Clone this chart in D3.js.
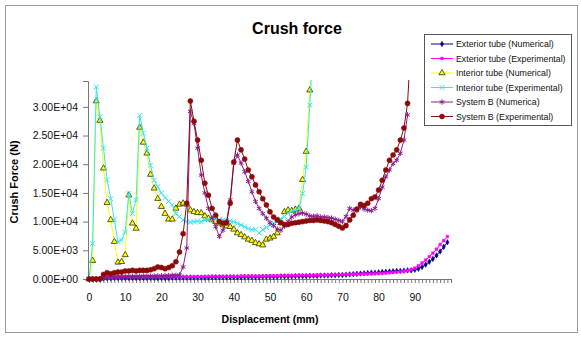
<!DOCTYPE html>
<html>
<head>
<meta charset="utf-8">
<script src="https://cdn.jsdelivr.net/npm/d3@7"></script>
<style>
  body { margin: 0; background: #fff; }
  svg { font-family: "Liberation Sans", Arial, sans-serif; }
</style>
</head>
<body>
<div class="chart"></div>
<script>
// values, one per mm of displacement (index = mm)
const extNum = [0,0,0,0,100,150,150,200,200,200,
  200,200,200,200,200,200,200,200,200,200,
  200,200,200,250,250,250,250,250,250,250,
  250,250,250,250,300,300,300,300,300,300,
  300,300,300,350,350,350,350,350,400,400,
  400,400,400,450,450,450,450,500,500,500,
  500,550,550,550,600,600,600,650,650,700,
  700,750,800,850,900,950,1000,1050,1100,1100,
  1150,1200,1250,1300,1350,1400,1400,1450,1500,1500,
  1600,1800,2100,2500,3000,3500,4100,4800,5600,6400]

const extExp = [0,0,0,100,300,350,300,350,350,400,
  400,400,400,400,400,400,400,400,400,400,
  400,400,400,400,400,400,400,400,400,400,
  400,400,450,450,450,450,450,450,450,450,
  450,450,500,500,500,500,500,500,500,550,
  550,550,550,600,600,600,600,600,650,650,
  650,650,650,700,700,700,700,750,750,750,
  800,800,800,850,850,850,900,900,900,950,
  1000,1000,1050,1100,1150,1200,1300,1350,1450,1600,
  1900,2300,2800,3300,3900,4500,5200,6000,6700,7400]

const intNum = [0,3200,31000,27600,19300,13300,10300,6500,2900,3000,
  4200,14600,9700,8800,26400,23800,21900,18200,15800,14000,
  12600,11400,10400,10400,12300,13000,13200,13000,12000,11700,
  11550,11500,10970,10570,10280,9990,9700,9400,9200,9100,
  8650,8000,7700,7300,6900,6700,6300,6100,5900,6900,
  7100,7400,8000,9800,11700,12000,11900,12100,12300,17300,
  22200,32900,45000]

const intExp = [0,6200,33500,28300,22800,17300,14000,10300,6500,6800,
  8200,14900,11400,13800,28500,25400,22800,19800,17200,16100,
  15000,14200,13500,12900,11400,10850,10300,10000,9900,10000,
  10100,10000,10300,10400,10500,10400,10300,10300,10200,10100,
  10000,9700,9400,9100,8800,8600,8600,8000,8600,9000,
  9400,9700,10000,10500,10900,11500,11800,12000,12300,14900,
  19500,30300,42000]

const sysBNum = [0,0,0,0,200,300,300,350,400,400,
  400,450,450,450,450,500,500,500,500,550,
  550,600,600,650,650,700,2100,5400,29200,27100,
  22800,18100,15000,12300,10600,9100,7400,8500,10000,13800,
  20200,21600,20200,18700,17000,15200,13500,12300,11400,10600,
  9800,9300,8700,8500,9200,10000,10800,11200,11400,11500,
  11300,11000,10900,11000,10800,10800,10700,10600,10400,10200,
  10000,10900,12300,12000,11900,12600,12200,12000,11900,12300,
  14000,16000,17800,19000,20100,20700,21900,24200,28600]

const sysBExp = [0,0,0,0,800,1100,900,1100,1200,1200,
  1400,1400,1500,1400,1500,1500,1500,1600,1800,2100,
  2000,1800,2000,2300,3000,4700,7900,13200,31000,27500,
  24200,20700,16700,14600,12300,11100,10000,9700,9800,13200,
  20400,24200,22500,20900,19000,17800,16400,15200,14000,12900,
  11700,10800,10300,9800,9500,9500,9700,9800,9900,10000,
  10100,10200,10200,10300,10200,10100,10000,9800,9500,9200,
  8900,9300,10300,11100,12200,13000,12800,13200,14000,14300,
  15500,17200,19000,20700,21600,22500,24200,26300,30600,42000]

const seriesNames = ["Exterior tube (Numerical)", "Exterior tube (Experimental)",
  "Interior tube (Numerical)", "Interior tube (Experimental)",
  "System B (Numerica)", "System B (Experimental)"]

const yTicks = [0, 5000, 10000, 15000, 20000, 25000, 30000]
const xLabels = [0, 10, 20, 30, 40, 50, 60, 70, 80, 90]
const categories = d3.range(0, 101)   // one tick per mm

const series = [
  {name: seriesNames[0], values: extNum,  color: "#000080", marker: "diamond"},
  {name: seriesNames[1], values: extExp,  color: "#ff00ff", marker: "square"},
  {name: seriesNames[2], values: intNum,  color: "#ffff00", marker: "triangle"},
  {name: seriesNames[3], values: intExp,  color: "#33e6ee", marker: "times"},
  {name: seriesNames[4], values: sysBNum, color: "#8a1e8c", marker: "asterisk"},
  {name: seriesNames[5], values: sysBExp, color: "#8b0a0a", marker: "circle"}
]

const width = 581
const height = 337
const plotLeft = 89, plotRight = 451, plotTop = 81, plotBottom = 279

let svg = d3.select(".chart")
  .append("svg")
  .attr("width", width)
  .attr("height", height)

// outer chart frame
svg.append("rect")
  .attr("x", 5.5).attr("y", 5.5)
  .attr("width", 572).attr("height", 327)
  .attr("fill", "#fff")
  .attr("stroke", "#9a9a9a")

svg.append("text")
  .text("Crush force")
  .attr("x", 297)
  .attr("y", 34)
  .attr("text-anchor", "middle")
  .attr("font-size", "16px")
  .attr("font-weight", "bold")

let x = d3.scaleLinear().domain([0, 100]).range([plotLeft, plotRight])
let y = d3.scaleLinear().domain([0, 34500]).range([plotBottom, plotTop])

let sciFormat = (d) => {
  let [m, e] = d.toExponential(2).split("e")
  let sign = e[0]
  let digits = e.slice(1).padStart(2, "0")
  return m + "E" + sign + digits
}

// y axis
let yAxis = d3.axisLeft(y)
  .tickValues(yTicks)
  .tickSize(5)
  .tickPadding(5)
  .tickFormat(sciFormat)
let gy = svg.append("g")
  .attr("transform", "translate(" + (plotLeft - 1) + ",0)")
  .call(yAxis)
gy.selectAll("path, line").attr("stroke", "#777")
gy.selectAll("text").attr("font-size", "10.5px").attr("fill", "#111")
  .attr("font-family", "Liberation Sans, Arial, sans-serif")

// x axis, a tick at every category, labels every 10
let xAxis = d3.axisBottom(x)
  .tickValues(categories)
  .tickSize(4)
  .tickPadding(11)
  .tickSizeOuter(0)
  .tickFormat((d) => xLabels.includes(d) ? d : "")
let gx = svg.append("g")
  .attr("transform", "translate(0," + plotBottom + ")")
  .call(xAxis)
gx.selectAll("path, line").attr("stroke", "#777")
gx.selectAll("text").attr("font-size", "10.5px").attr("fill", "#111")
  .attr("font-family", "Liberation Sans, Arial, sans-serif")

svg.append("text")
  .text("Displacement (mm)")
  .attr("x", (plotLeft + plotRight) / 2)
  .attr("y", 323)
  .attr("text-anchor", "middle")
  .attr("font-size", "10.5px")
  .attr("font-weight", "bold")

svg.append("text")
  .text("Crush Force (N)")
  .attr("transform", "translate(18,182) rotate(-90)")
  .attr("text-anchor", "middle")
  .attr("font-size", "11px")
  .attr("font-weight", "bold")

svg.append("clipPath")
  .attr("id", "plot-clip")
  .append("rect")
  .attr("x", plotLeft - 4).attr("y", plotTop - 1)
  .attr("width", plotRight - plotLeft + 8).attr("height", plotBottom - plotTop + 6)

let symbolFor = {
  diamond: d3.symbol(d3.symbolDiamond, 9),
  square: d3.symbol(d3.symbolSquare, 7),
  triangle: d3.symbol(d3.symbolTriangle, 16),
  times: d3.symbol(d3.symbolTimes, 18),
  asterisk: d3.symbol(d3.symbolAsterisk, 20),
  circle: d3.symbol(d3.symbolCircle, 20)
}

let styleMarker = (sel, s) => {
  if (s.marker === "times" || s.marker === "asterisk") {
    sel.attr("fill", "none").attr("stroke", s.color).attr("stroke-width", 1)
  } else if (s.marker === "triangle") {
    sel.attr("fill", "#ffff00").attr("stroke", "#333300").attr("stroke-width", 0.8)
  } else {
    sel.attr("fill", s.color).attr("stroke", s.color).attr("stroke-width", 0.5)
  }
}

let line = d3.line()
  .x((d, i) => x(i))
  .y((d) => y(d))

let plot = svg.append("g").attr("clip-path", "url(#plot-clip)")

series.forEach((s) => {
  let g = plot.append("g").attr("class", "series")
  g.append("path")
    .datum(s.values)
    .attr("d", line)
    .attr("fill", "none")
    .attr("stroke", s.color)
    .attr("stroke-width", 1)
  g.selectAll(".pt")
    .data(s.values)
    .enter()
    .append("path")
    .attr("class", "pt")
    .attr("d", symbolFor[s.marker])
    .attr("transform", (d, i) => "translate(" + x(i) + "," + y(d) + ")")
    .call(styleMarker, s)
})

// legend
let legend = svg.append("g").attr("id", "legend")
legend.append("rect")
  .attr("x", 424.5).attr("y", 34.5)
  .attr("width", 147).attr("height", 91)
  .attr("fill", "#fff")
  .attr("stroke", "#555")

series.forEach((s, i) => {
  let ly = 44 + i * 14.5
  legend.append("line")
    .attr("x1", 431).attr("x2", 453)
    .attr("y1", ly).attr("y2", ly)
    .attr("stroke", s.color)
  legend.append("path")
    .attr("d", symbolFor[s.marker])
    .attr("transform", "translate(442," + ly + ")")
    .call(styleMarker, s)
  legend.append("text")
    .text(s.name)
    .attr("x", 456)
    .attr("y", ly)
    .attr("dy", "0.35em")
    .attr("font-size", "8.8px")
    .attr("fill", "#111")
})
</script>
</body>
</html>
